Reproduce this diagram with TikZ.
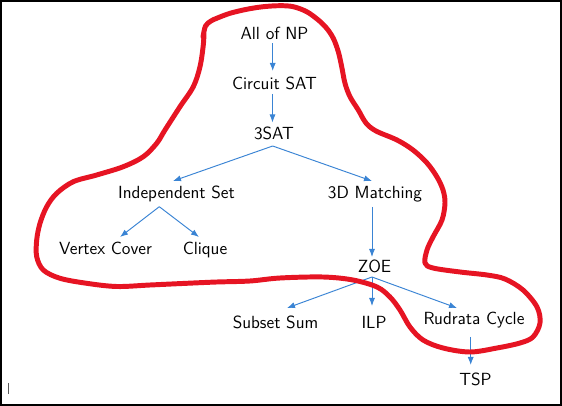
\documentclass[tikz,border=0pt]{standalone}
\usetikzlibrary{arrows.meta,calc}
\definecolor{arrblue}{RGB}{58,132,212}
\definecolor{penred}{RGB}{230,20,35}
\tikzset{
  lbl/.style={anchor=base,inner sep=0pt,font=\sffamily\fontsize{11}{13}\selectfont},
  arr/.style={draw=arrblue,line width=0.6pt,-{Latex[length=5pt,width=3.8pt]}},
  pen/.style={draw=penred,line width=3.1pt,line cap=round,line join=round}
}
\begin{document}
\begin{tikzpicture}[x=0.625pt,y=-0.625pt]
\useasboundingbox (0,0) rectangle (562,406);
\draw[black,line width=1pt] (0.8,0.8) rectangle (560.8,405);
% nodes
\node[lbl] (np)  at (274.5,40)  {All of NP};
\node[lbl] (cs)  at (274.5,90)  {Circuit SAT};
\node[lbl] (sat) at (274,140)   {3SAT};
\node[lbl] (is)  at (176.5,199) {Independent Set};
\node[lbl] (dm)  at (375,199)   {3D Matching};
\node[lbl] (vc)  at (105.5,255) {Vertex Cover};
\node[lbl] (cl)  at (205,255)   {Clique};
\node[lbl] (zoe) at (374.5,273) {ZOE};
\node[lbl] (ss)  at (275.5,329) {Subset Sum};
\node[lbl] (ilp) at (374,329)   {ILP};
\node[lbl] (rc)  at (474,325)   {Rudrata Cycle};
\node[lbl] (tsp) at (475.5,386) {TSP};
% connectors
\draw[arr] ($(np.base)+(-1.8,3.3)$) -- ($(cs.base)+(-1.8,-19)$);
\draw[arr] ($(cs.base)+(-2,4)$) -- ($(sat.base)+(-1.5,-17.5)$);
\draw[arr] ($(sat.base)+(-1.3,6)$) -- ($(is.base)+(-3.5,-18)$);
\draw[arr] ($(sat.base)+(-1.3,6)$) -- ($(dm.base)+(-3,-18)$);
\draw[arr] ($(is.base)+(-17.2,7.7)$) -- ($(vc.base)+(14.5,-18)$);
\draw[arr] ($(is.base)+(-17.2,7.7)$) -- ($(cl.base)+(-6,-18)$);
\draw[arr] ($(dm.base)+(-3,8)$) -- ($(zoe.base)+(-2.5,-16)$);
\draw[arr] ($(zoe.base)+(-2.5,4)$) -- ($(ss.base)+(11.5,-21)$);
\draw[arr] ($(zoe.base)+(-2.5,4)$) -- ($(ilp.base)+(-2,-23)$);
\draw[arr] ($(zoe.base)+(-2.5,4)$) -- ($(rc.base)+(-17,-17)$);
\draw[arr] ($(rc.base)+(-3.3,12)$) -- ($(tsp.base)+(-4.8,-21)$);
% freehand loop
\draw[pen] plot[smooth,tension=0.55] coordinates {
 (203,37) (205.5,26) (211,21) (216.7,18.3) (230,13.3) (246.7,9.3) (263.3,6.7)
 (280,5.7) (293.3,6.7) (306.7,11.7) (318.3,20) (326.7,28.3) (333.3,38.3)
 (338.3,51.7) (341.7,66.7) (345,83.3) (350,96.7) (358.3,110) (366,123)
 (376,131) (397,140) (413,150) (427,163) (437,177) (443,190) (445,203)
 (442,220) (433,237) (427,250) (425,263) (433,268) (460,272) (487,275)
 (505,279) (523,290) (537,307) (540,323) (533,337) (520,343) (497,348)
 (470,352) (443,348) (423,340) (410,327) (400,310) (390,297) (377,287)
 (353,280) (323,277) (280,278) (250,281) (216.7,282) (186.7,283.3)
 (150,285) (116.7,286.5) (86.7,283.3) (60,278.3) (43.3,270) (36.7,256.7)
 (36.7,240) (40,223.3) (46.7,206.7) (56.7,193.3) (73.3,181.7) (96.7,175)
 (123.3,166.7) (143.3,156.7) (156.7,143.3) (165,130) (180,106.7)
 (193.3,86.7) (200,66.7) (203.3,45) (204,32)};
% cursor mark
\draw[black!65,line width=0.6pt] (8.3,383) -- (8.3,394);
\end{tikzpicture}
\end{document}
